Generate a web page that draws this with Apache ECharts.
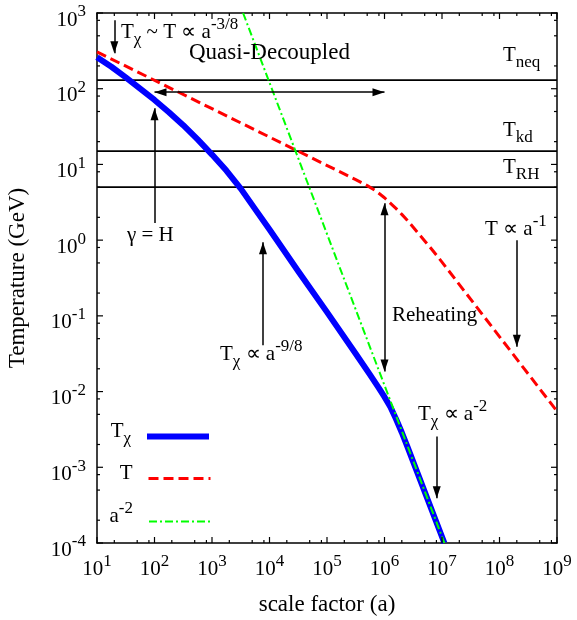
<!DOCTYPE html>
<html><head><meta charset="utf-8">
<script src="https://cdn.jsdelivr.net/npm/echarts@6/dist/echarts.min.js"></script>
<style>html,body{margin:0;padding:0;background:#fff}#c{width:577px;height:620px}</style>
</head><body><div id="c"></div>
<script>
// ---------- data ----------
const xMajorTicks = [1e1, 1e2, 1e3, 1e4, 1e5, 1e6, 1e7, 1e8, 1e9];
const yMajorTicks = [1e-4, 1e-3, 1e-2, 1e-1, 1e0, 1e1, 1e2, 1e3];
const minorMantissas = [2, 5, 8];

// T_chi (thick blue)  [scale factor a, temperature GeV]
const tchiPoints = [[10, 260], [17.8, 195], [31.6, 141], [56.2, 100], [100, 71], [178, 49], [316, 33],
  [562, 21.4], [1000, 13.5], [1778, 8.3], [3162, 4.79], [5623, 2.57], [1e4, 1.38], [3.16e4, 0.389],
  [1e5, 0.112], [3.16e5, 0.0316], [5.62e5, 0.0166], [7.94e5, 0.0112], [1e6, 0.0085], [1.26e6, 0.0063],
  [1.58e6, 0.00437], [2.0e6, 0.00288], [2.51e6, 0.00186], [1.1e7, 1e-4]];
// T (red dashed)
const tPoints = [[10, 306], [3.16e5, 6.3], [5.01e5, 5.25], [7.08e5, 4.47], [1e6, 3.63], [1.26e6, 3.09],
  [1.58e6, 2.63], [2.0e6, 2.19], [2.51e6, 1.82], [3.16e6, 1.48], [3.98e6, 1.2], [5.01e6, 0.977],
  [6.31e6, 0.794], [1e7, 0.513], [1e9, 0.0055]];
// a^-2 (green dash-dot)
const aMinus2Points = [[3470, 1000], [1.1e7, 1e-4]];

// horizontal temperature levels
const levelValues = [130, 15, 5];
const levelNames = ['neq', 'kd', 'RH'];

// annotation arrows: [from, tip]
const singleArrows = [
  [[20, 800], [20, 293]],
  [[100, 1.68], [100, 55]],
  [[7700, 0.041], [7700, 0.94]],
  [[2e8, 1.0], [2e8, 0.039]],
  [[8.1e6, 0.00255], [8.1e6, 3.9e-4]]
];
const doubleArrows = [
  [[100, 90], [1e6, 90]],
  [[1e6, 0.0184], [1e6, 3.07]]
];

// ---------- helpers ----------
const F = 'Liberation Serif';
const X_MIN = 1e1, X_MAX = 1e9, Y_MIN = 1e-4, Y_MAX = 1e3;
function decadeMinors(lo, hi) {
  const out = [];
  for (let e = Math.round(Math.log10(lo)); e < Math.round(Math.log10(hi)); e++)
    minorMantissas.forEach(m => out.push(m * Math.pow(10, e)));
  return out;
}
const xMinorTicks = decadeMinors(X_MIN, X_MAX);
const yMinorTicks = decadeMinors(Y_MIN, Y_MAX);

// tick marks (mirrored on all four sides): [x, y, side(0 bottom,1 top,2 left,3 right), length]
const tickData = [];
xMajorTicks.forEach(v => { tickData.push([v, Y_MIN, 0, 6], [v, Y_MAX, 1, 6]); });
xMinorTicks.forEach(v => { tickData.push([v, Y_MIN, 0, 3], [v, Y_MAX, 1, 3]); });
yMajorTicks.forEach(v => { tickData.push([X_MIN, v, 2, 6], [X_MAX, v, 3, 6]); });
yMinorTicks.forEach(v => { tickData.push([X_MIN, v, 2, 3], [X_MAX, v, 3, 3]); });

function expLabel(v) { return '{b|10}{s|' + Math.round(Math.log10(v)) + '}'; }
const labelRich = {
  b: {fontFamily: F, fontSize: 21, lineHeight: 21, color: '#000', verticalAlign: 'bottom'},
  s: {fontFamily: F, fontSize: 17, lineHeight: 17, color: '#000', verticalAlign: 'bottom', padding: [0, 0, 10, 0]}
};
function rich(color, size) {
  size = size || 21;
  return {
    m: {fontFamily: F, fontSize: size, lineHeight: size, color: color, verticalAlign: 'bottom', padding: [0, 0, 5, 0]},
    sub: {fontFamily: F, fontSize: 17, lineHeight: 17, color: color, verticalAlign: 'bottom'},
    sup: {fontFamily: F, fontSize: 17, lineHeight: 17, color: color, verticalAlign: 'bottom', padding: [0, 0, 15, 0]}
  };
}
function frameAxis(pos, min, max, extra) {
  return Object.assign({
    type: 'log', logBase: 10, min: min, max: max, position: pos,
    splitLine: {show: false},
    axisLine: {show: true, onZero: false, lineStyle: {color: '#000', width: 1.5}},
    axisTick: {show: false}, minorTick: {show: false},
    axisLabel: {show: false}
  }, extra || {});
}

const xAxes = [
  frameAxis('bottom', X_MIN, X_MAX, {
    axisLabel: {show: true, customValues: xMajorTicks, formatter: expLabel, rich: labelRich, margin: 16},
    name: 'scale factor (a)', nameLocation: 'middle', nameGap: 50,
    nameTextStyle: {fontFamily: F, fontSize: 23, color: '#000'}
  }),
  frameAxis('top', X_MIN, X_MAX)
];
const yAxes = [
  frameAxis('left', Y_MIN, Y_MAX, {
    axisLabel: {show: true, customValues: yMajorTicks, formatter: expLabel, rich: labelRich, margin: 11, padding: [14, 0, 0, 0]},
    name: 'Temperature (GeV)', nameLocation: 'middle', nameGap: 68,
    nameTextStyle: {fontFamily: F, fontSize: 23, color: '#000'}
  }),
  frameAxis('right', Y_MIN, Y_MAX)
];

const arrowHead = {symbol: 'triangle', symbolSize: [8, 12], symbolOffset: [0, 6]};
const arrowLines = [];
singleArrows.forEach(a => arrowLines.push([
  {coord: a[0], symbol: 'none'},
  Object.assign({coord: a[1]}, arrowHead)
]));
doubleArrows.forEach(a => arrowLines.push([
  Object.assign({coord: a[0]}, arrowHead),
  Object.assign({coord: a[1]}, arrowHead)
]));

const series = [];
series.push({
  type: 'custom', name: 'ticks', data: tickData, silent: true, clip: false, z: 10,
  encode: {x: 0, y: 1},
  renderItem: function (params, api) {
    const p = api.coord([api.value(0), api.value(1)]);
    const side = api.value(2), len = api.value(3);
    let x2 = p[0], y2 = p[1];
    if (side === 0) y2 -= len; else if (side === 1) y2 += len;
    else if (side === 2) x2 += len; else x2 -= len;
    return {type: 'line', shape: {x1: p[0], y1: p[1], x2: x2, y2: y2},
            style: {stroke: '#000', lineWidth: 1.2}};
  }
});
levelValues.forEach((v, i) => series.push({
  type: 'line', name: 'level_' + levelNames[i], data: [[X_MIN, v], [X_MAX, v]],
  symbol: 'none', silent: true, lineStyle: {color: '#000', width: 1.8}
}));
series.push({
  type: 'line', name: 'Tchi', data: tchiPoints, symbol: 'none', silent: true,
  lineStyle: {color: '#0000ff', width: 6, cap: 'butt', join: 'round'}, itemStyle: {color: '#0000ff'}
});
series.push({
  type: 'line', name: 'T', data: tPoints, symbol: 'none', silent: true,
  lineStyle: {color: '#ff0000', width: 3, type: [10, 5]}, itemStyle: {color: '#ff0000'}
});
series.push({
  type: 'line', name: 'a-2', data: aMinus2Points, symbol: 'none', silent: true,
  lineStyle: {color: '#00ff00', width: 2, type: [8, 3, 2, 3]}, itemStyle: {color: '#00ff00'}
});
series.push({
  type: 'line', name: 'arrows', data: [], symbol: 'none', silent: true,
  markLine: {
    silent: true, animation: false, label: {show: false},
    lineStyle: {color: '#000', width: 1.5, type: 'solid'},
    itemStyle: {color: '#000'},
    emphasis: {disabled: true},
    data: arrowLines
  }
});

const legendLabels = {
  'Tchi': '{m|T}{sub|χ}',
  'T': '{m|T}',
  'a-2': '{m|a}{sup|-2}'
};
function legendCfg(name, top, lw) {
  return {
    data: [name], orient: 'vertical', align: 'right', right: 365, top: top,
    itemWidth: 62, itemHeight: 14, padding: 0, selectedMode: false,
    lineStyle: {width: lw}, itemStyle: {opacity: 0, borderWidth: 0},
    formatter: n => legendLabels[n],
    textStyle: {rich: rich('#000'), padding: [0, 11, 0, 0]}
  };
}

const annotations = [
  {x: 121, y: 48, text: '{m|T}{sub|χ}{m| ~ T ∝ a}{sup|-3/8}', color: '#0000ff'},
  {x: 189, y: 69, text: '{m|Quasi-Decoupled}', color: '#000', size: 23},
  {x: 503, y: 71, text: '{m|T}{sub|neq}', color: '#000'},
  {x: 503, y: 146, text: '{m|T}{sub|kd}', color: '#000'},
  {x: 503, y: 183, text: '{m|T}{sub|RH}', color: '#000'},
  {x: 127, y: 251, text: '{m|γ = H}', color: '#000'},
  {x: 220, y: 370, text: '{m|T}{sub|χ}{m| ∝ a}{sup|-9/8}', color: '#0000ff'},
  {x: 392, y: 331, text: '{m|Reheating}', color: '#000'},
  {x: 485, y: 245, text: '{m|T ∝ a}{sup|-1}', color: '#ff0000'},
  {x: 418, y: 430, text: '{m|T}{sub|χ}{m| ∝ a}{sup|-2}', color: '#0000ff'}
];

const chart = echarts.init(document.getElementById('c'), null, {renderer: 'canvas'});
chart.setOption({
  animation: false,
  backgroundColor: '#fff',
  grid: {left: 97, right: 20, top: 13, bottom: 77, containLabel: false, outerBoundsMode: 'none'},
  xAxis: xAxes,
  yAxis: yAxes,
  legend: [legendCfg('Tchi', 421, 6), legendCfg('T', 463, 3), legendCfg('a-2', 500, 2)],
  series: series,
  graphic: annotations.map(a => ({
    type: 'text', x: a.x, y: a.y, silent: true, z: 100,
    style: {text: a.text, rich: rich(a.color, a.size), align: 'left', verticalAlign: 'bottom'}
  }))
});
</script></body></html>
